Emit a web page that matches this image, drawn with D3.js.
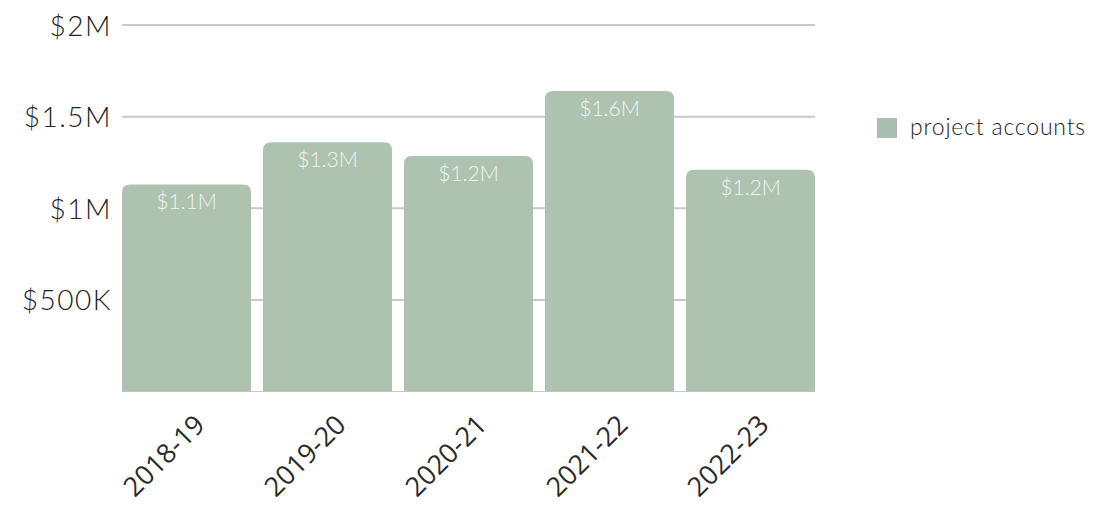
<!DOCTYPE html>
<html>
<head>
<meta charset="utf-8">
<script src="https://cdn.jsdelivr.net/npm/d3@7"></script>
<style>
  html, body { margin: 0; padding: 0; background: #ffffff; }
  svg { display: block; font-family: Lato, Inter, sans-serif; }
</style>
</head>
<body>
<svg id="chart" width="1095" height="508"></svg>
<script>
// Annual totals for project accounts, by financial year
const categories = ["2018-19", "2019-20", "2020-21", "2021-22", "2022-23"];
const projectAccounts = [1130000, 1360000, 1285000, 1640000, 1210000];
const yTicks = [500000, 1000000, 1500000, 2000000];
const yTickLabels = ["$500K", "$1M", "$1.5M", "$2M"];
const seriesName = "project accounts";

const W = 1095, H = 508;
const margin = { left: 122, right: 280, top: 25, bottom: 116.5 };
const barColor = "#adc3b0";

const svg = d3.select("#chart");

const x = d3.scaleBand()
  .domain(categories)
  .range([margin.left, W - margin.right])
  .paddingInner(0.085)
  .paddingOuter(0);

const y = d3.scaleLinear()
  .domain([0, 2000000])
  .range([H - margin.bottom, margin.top]);

// Horizontal gridlines with the value labels at the left
const yAxis = d3.axisLeft(y)
  .tickValues(yTicks)
  .tickFormat((d, i) => yTickLabels[i])
  .tickSize(0)
  .tickPadding(10);

const gy = svg.append("g")
  .attr("transform", `translate(${margin.left},0)`)
  .call(yAxis);
gy.select(".domain").remove();
gy.selectAll(".tick text")
  .attr("fill", "#222222")
  .attr("dy", "0.36em")
  .style("font-family", "Lato, sans-serif")
  .style("font-size", "28px")
  .style("font-weight", 300)
  .style("letter-spacing", "1.5px");

svg.append("g")
  .selectAll("line")
  .data([0].concat(yTicks))
  .join("line")
  .attr("x1", margin.left)
  .attr("x2", W - margin.right)
  .attr("y1", d => y(d))
  .attr("y2", d => y(d))
  .attr("stroke", "#c9c9c9")
  .attr("stroke-width", d => d === 0 ? 1 : 2);

// Bars with rounded top corners
const r = 8;
function barPath(d, i) {
  const x0 = x(categories[i]);
  const x1 = x0 + x.bandwidth();
  const yt = y(d);
  const yb = y(0);
  return `M${x0},${yb} L${x0},${yt + r} Q${x0},${yt} ${x0 + r},${yt} ` +
         `L${x1 - r},${yt} Q${x1},${yt} ${x1},${yt + r} L${x1},${yb} Z`;
}

svg.append("g")
  .selectAll("path")
  .data(projectAccounts)
  .join("path")
  .attr("d", barPath)
  .attr("fill", barColor);

// Value labels inside the top of each bar (truncated to one decimal)
const fmtM = v => "$" + (Math.floor(v / 100000) / 10).toFixed(1) + "M";
svg.append("g")
  .selectAll("text")
  .data(projectAccounts)
  .join("text")
  .attr("x", (d, i) => x(categories[i]) + x.bandwidth() / 2)
  .attr("y", d => y(d) + 25)
  .attr("text-anchor", "middle")
  .attr("fill", "#f1f5f1")
  .style("font-size", "21px")
  .style("font-weight", 300)
  .text(fmtM);

// Rotated category labels
svg.append("g")
  .selectAll("text")
  .data(categories)
  .join("text")
  .attr("transform", d => `translate(${x(d) + x.bandwidth() / 2 + 20},${H - margin.bottom + 35}) rotate(-45)`)
  .attr("text-anchor", "end")
  .attr("fill", "#2a2a2a")
  .style("font-family", "'Open Sans', sans-serif")
  .style("font-size", "27px")
  .text(d => d);

// Legend
const lg = svg.append("g").attr("transform", "translate(877,118)");
lg.append("rect")
  .attr("width", 20)
  .attr("height", 20)
  .attr("fill", "#a9bdb0");
lg.append("text")
  .attr("x", 33)
  .attr("y", 17)
  .attr("fill", "#222222")
  .style("font-size", "23px")
  .style("font-weight", 300)
  .style("letter-spacing", "0.8px")
  .text(seriesName);
</script>
</body>
</html>
